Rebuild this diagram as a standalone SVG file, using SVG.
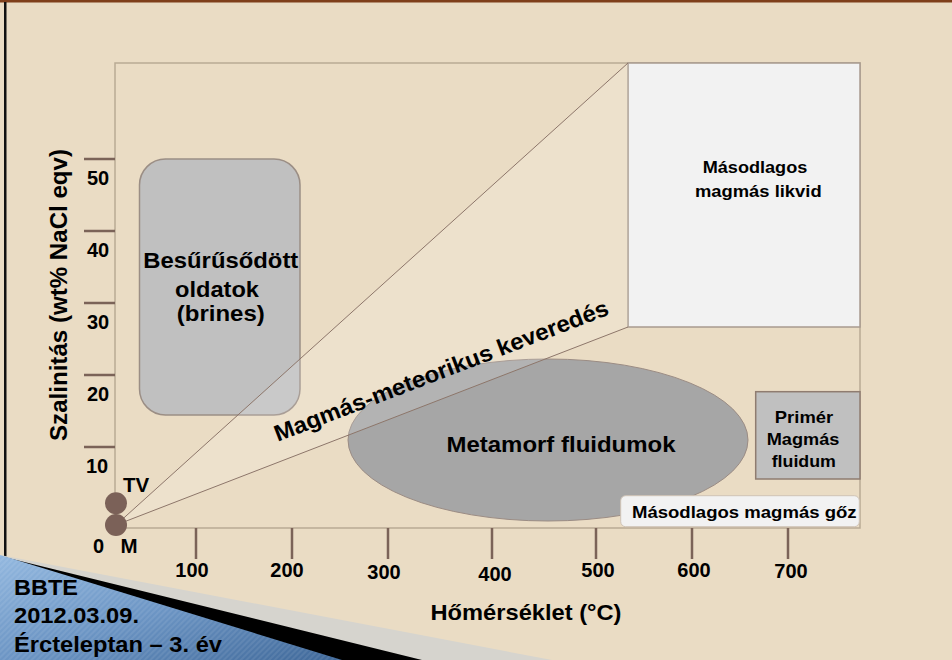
<svg xmlns="http://www.w3.org/2000/svg" width="952" height="660" viewBox="0 0 952 660">
<defs>
<linearGradient id="blueg" x1="0" y1="0" x2="1" y2="1">
<stop offset="0" stop-color="#93b8df"/>
<stop offset="0.5" stop-color="#6c95c4"/>
<stop offset="1" stop-color="#3f6899"/>
</linearGradient>
<pattern id="stripes" width="4" height="4" patternUnits="userSpaceOnUse" patternTransform="rotate(45)">
<rect width="2" height="4" fill="#ffffff" fill-opacity="0.08"/>
</pattern>
</defs>
<style>
text{font-family:"Liberation Sans",Arial,sans-serif;font-weight:bold;fill:#000}
.tick{stroke:#7b6358;stroke-width:2.5}
.num{font-size:20px;text-anchor:middle}
.lbl{text-anchor:middle}
</style>
<rect x="0" y="0" width="952" height="660" fill="#eadcc4"/>
<rect x="0" y="0" width="952" height="2.5" fill="#7f3f1a"/>
<rect x="4" y="2" width="2.5" height="658" fill="#111"/>

<rect id="plot" x="115" y="63" width="745" height="465" fill="#eadcc4" stroke="#b9aa94" stroke-width="1.5"/>

<g id="yaxis">
<line class="tick" x1="84" y1="159" x2="115" y2="159"/>
<line class="tick" x1="84" y1="231" x2="115" y2="231"/>
<line class="tick" x1="84" y1="303" x2="115" y2="303"/>
<line class="tick" x1="84" y1="375" x2="115" y2="375"/>
<line class="tick" x1="84" y1="447" x2="115" y2="447"/>
<text class="num" x="98" y="185">50</text>
<text class="num" x="98" y="257">40</text>
<text class="num" x="98" y="329">30</text>
<text class="num" x="98" y="401">20</text>
<text class="num" x="97" y="473">10</text>
<text class="num" x="98.5" y="553">0</text>
<text x="66.5" y="295" transform="rotate(-90 66.5 295)" class="lbl" font-size="23" textLength="292" lengthAdjust="spacingAndGlyphs">Szalinitás (wt% NaCl eqv)</text>
</g>

<g id="xaxis">
<line class="tick" x1="196" y1="528" x2="196" y2="559"/>
<line class="tick" x1="292" y1="528" x2="292" y2="559"/>
<line class="tick" x1="388" y1="528" x2="388" y2="559"/>
<line class="tick" x1="492" y1="528" x2="492" y2="559"/>
<line class="tick" x1="596" y1="528" x2="596" y2="559"/>
<line class="tick" x1="692" y1="528" x2="692" y2="559"/>
<line class="tick" x1="788" y1="528" x2="788" y2="559"/>
<text class="num" x="192" y="577">100</text>
<text class="num" x="287" y="577">200</text>
<text class="num" x="384" y="579">300</text>
<text class="num" x="495" y="580.5">400</text>
<text class="num" x="598" y="576.5">500</text>
<text class="num" x="694" y="577">600</text>
<text class="num" x="791" y="578">700</text>
<text x="526" y="619.5" class="lbl" font-size="22.5" textLength="191" lengthAdjust="spacingAndGlyphs">Hőmérséklet (°C)</text>
</g>

<g id="brines">
<rect x="139.5" y="159" width="160.5" height="256" rx="26" fill="#c0c0c0" stroke="#9b8e85" stroke-width="1.5"/>
<text x="220.8" y="268.3" class="lbl" font-size="22.5" textLength="155" lengthAdjust="spacingAndGlyphs">Besűrűsődött</text>
<text x="217" y="296.7" class="lbl" font-size="22.5" textLength="84" lengthAdjust="spacingAndGlyphs">oldatok</text>
<text x="220.8" y="321" class="lbl" font-size="22.5" textLength="88" lengthAdjust="spacingAndGlyphs">(brines)</text>
</g>

<g id="metamorf">
<ellipse cx="548" cy="440" rx="200" ry="81" fill="#a6a6a6" stroke="#9b8c84" stroke-width="1"/>
<text x="561" y="452" class="lbl" font-size="21.5" textLength="229" lengthAdjust="spacingAndGlyphs">Metamorf fluidumok</text>
</g>

<g id="liquid">
<rect x="628" y="63" width="232" height="264" fill="#f2f2f2" stroke="#a89a8f" stroke-width="1.5"/>
<text x="755" y="173" class="lbl" font-size="17" textLength="104.7" lengthAdjust="spacingAndGlyphs">Másodlagos</text>
<text x="758.3" y="196.7" class="lbl" font-size="17" textLength="126.7" lengthAdjust="spacingAndGlyphs">magmás likvid</text>
</g>

<g id="primer">
<rect x="755.7" y="391.7" width="104.3" height="87.3" fill="#c0c0c0" stroke="#8f7c70" stroke-width="1.5"/>
<text x="804" y="422.7" class="lbl" font-size="16.5" textLength="58.3" lengthAdjust="spacingAndGlyphs">Primér</text>
<text x="803" y="445" class="lbl" font-size="16.5" textLength="72.7" lengthAdjust="spacingAndGlyphs">Magmás</text>
<text x="803.8" y="466.7" class="lbl" font-size="16.5" textLength="64.3" lengthAdjust="spacingAndGlyphs">fluidum</text>
</g>

<g id="connectors">
<polygon points="116,525 628,63 628,327" fill="#ffffff" fill-opacity="0.15" stroke="none"/>
<line x1="116" y1="525" x2="628" y2="63" stroke="#8d766a" stroke-width="1"/>
<line x1="116" y1="525" x2="628" y2="327" stroke="#8d766a" stroke-width="1"/>
</g>

<text id="mixing" x="444" y="378" transform="rotate(-21 444 378)" class="lbl" font-size="23" textLength="356" lengthAdjust="spacingAndGlyphs">Magmás-meteorikus keveredés</text>

<g id="gos">
<rect x="620.7" y="495.7" width="238.6" height="31" rx="5" fill="#f2f2f2" stroke="#cfc3b5" stroke-width="1"/>
<text x="744.3" y="518.3" class="lbl" font-size="17" textLength="224.7" lengthAdjust="spacingAndGlyphs">Másodlagos magmás gőz</text>
</g>

<g id="tv">
<circle cx="116" cy="503.3" r="11" fill="#7b6158"/>
<text x="123" y="492" font-size="20.5">TV</text>
</g>
<g id="m">
<circle cx="116" cy="525" r="11" fill="#7b6158"/>
<text x="120.5" y="553" font-size="20.5">M</text>
</g>

<g id="footer">
<polygon points="0,555 552,660 0,660" fill="#d6d4ce"/>
<polygon points="0,556 422,660 0,660" fill="#000"/>
<polygon points="0,555 342,660 0,660" fill="url(#blueg)"/>
<polygon points="0,555 342,660 0,660" fill="url(#stripes)"/>
<text x="14" y="595" font-size="22" textLength="64" lengthAdjust="spacingAndGlyphs">BBTE</text>
<text x="14" y="623" font-size="22" textLength="125" lengthAdjust="spacingAndGlyphs">2012.03.09.</text>
<text x="14" y="652" font-size="22" textLength="208" lengthAdjust="spacingAndGlyphs">Ércteleptan – 3. év</text>
</g>
</svg>
